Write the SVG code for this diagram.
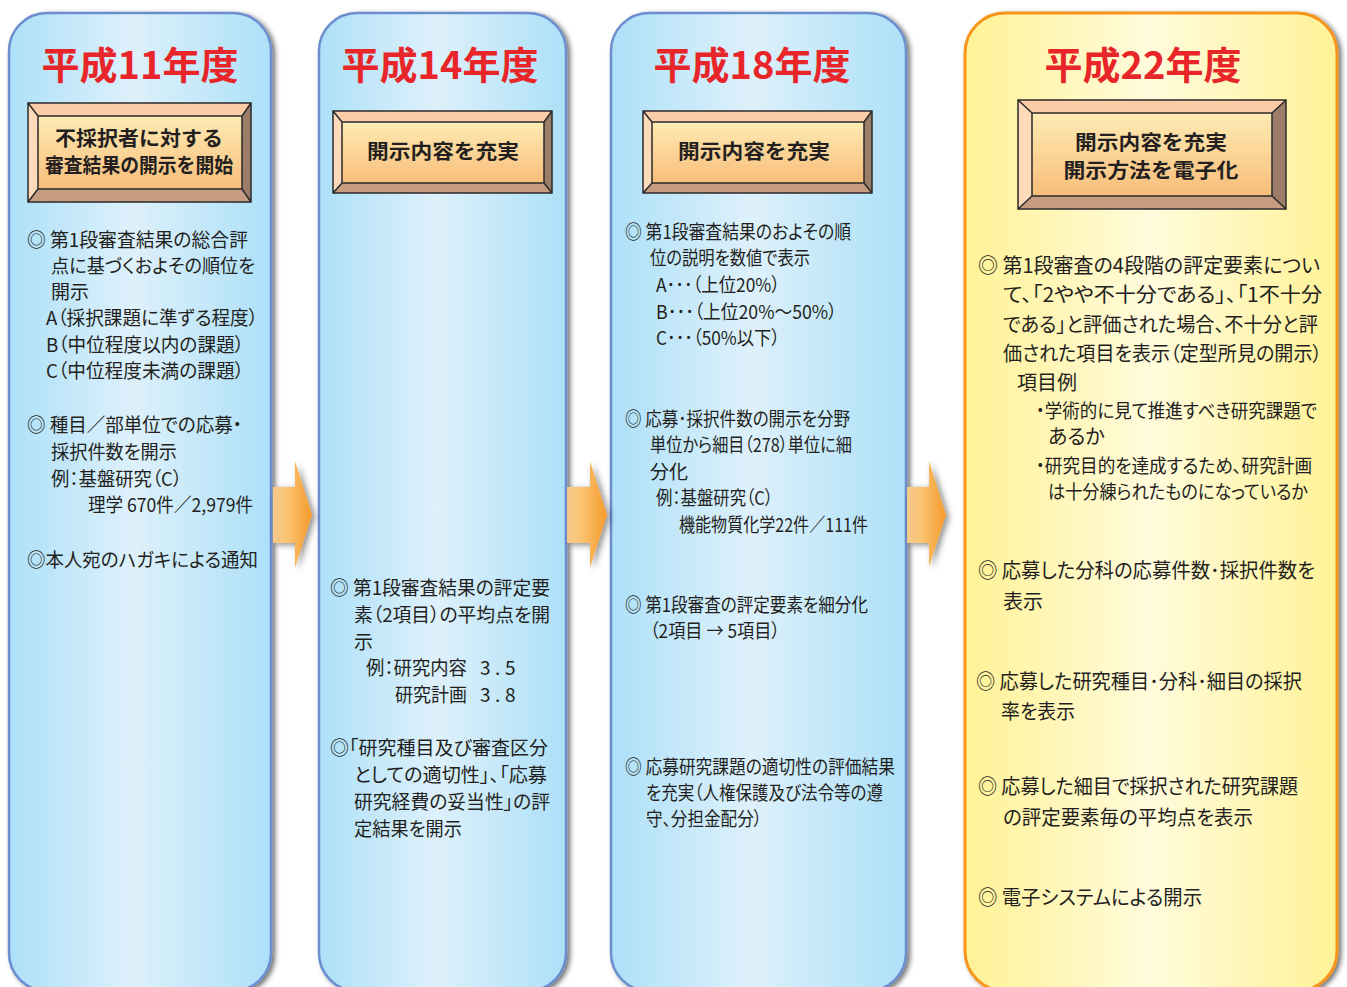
<svg xmlns="http://www.w3.org/2000/svg" width="1347" height="987" viewBox="0 0 1347 987">
<defs>
<linearGradient id="blueG" x1="0" y1="0" x2="1" y2="0">
<stop offset="0" stop-color="#ade0f8"/><stop offset="0.48" stop-color="#def1fb"/><stop offset="0.55" stop-color="#d6eefa"/><stop offset="1" stop-color="#ade0f8"/>
</linearGradient>
<linearGradient id="yellowG" x1="0" y1="0" x2="1" y2="0">
<stop offset="0" stop-color="#fff296"/><stop offset="0.5" stop-color="#fffbdc"/><stop offset="1" stop-color="#fff296"/>
</linearGradient>
<linearGradient id="faceG" x1="0" y1="0" x2="0" y2="1">
<stop offset="0" stop-color="#feebb4"/><stop offset="1" stop-color="#f8bd7a"/>
</linearGradient>
<linearGradient id="arrowG" x1="0" y1="0" x2="1" y2="0">
<stop offset="0" stop-color="#f3c98c"/><stop offset="0.35" stop-color="#fbc473"/><stop offset="1" stop-color="#f59a2c"/>
</linearGradient>
<filter id="sh" x="-10%" y="-5%" width="125%" height="115%">
<feDropShadow dx="3" dy="2" stdDeviation="2.5" flood-color="#000" flood-opacity="0.55"/>
</filter>
<filter id="ash" x="-50%" y="-30%" width="250%" height="160%">
<feDropShadow dx="3" dy="2" stdDeviation="3" flood-color="#000" flood-opacity="0.45"/>
</filter>
</defs>
<style>
.pb{fill:url(#blueG);stroke:#6c8ecf;stroke-width:2.5}
.py{fill:url(#yellowG);stroke:#f7941d;stroke-width:3}
.ttl{font-family:"Noto Sans CJK JP","Noto Sans CJK SC",sans-serif;font-weight:700;font-size:38px;fill:#e8262a;text-anchor:middle}
.bt{fill:#fbcca6}.bl{fill:#fddab9}.br{fill:#9b7d69}.bb{fill:#c69d80}
.face{fill:url(#faceG)}
.ol{fill:none;stroke:#2a2a2a;stroke-width:1.5}
.hd{font-family:"Noto Sans CJK JP","Noto Sans CJK SC",sans-serif;font-weight:700;font-size:20px;fill:#231f20;text-anchor:middle}
.t{font-family:"Noto Sans CJK JP","Noto Sans CJK SC",sans-serif;font-size:19px;fill:#231f20;font-feature-settings:"palt"}
.t4{font-family:"Noto Sans CJK JP","Noto Sans CJK SC",sans-serif;font-size:20px;fill:#231f20;font-feature-settings:"palt"}
.s19{font-size:19px}
.arr{fill:url(#arrowG)}
</style>
<rect width="1347" height="987" fill="#ffffff"/>

<g id="panel-h11">
<rect class="pb" x="9" y="13" width="262" height="978" rx="38" filter="url(#sh)"/>
<text class="ttl" x="140" y="79">平成11年度</text>
<g id="box-h11">
<polygon class="bt" points="28,103 251,103 242,116 38,116"/>
<polygon class="bl" points="28,103 38,116 38,189 28,202"/>
<polygon class="br" points="251,103 251,202 242,189 242,116"/>
<polygon class="bb" points="28,202 38,189 242,189 251,202"/>
<rect class="face" x="38" y="116" width="204" height="73"/>
<path class="ol" d="M28,103H251V202H28Z M38,116H242V189H38Z M28,103L38,116 M251,103L242,116 M28,202L38,189 M251,202L242,189"/>
<text class="hd" x="139" y="146" textLength="168" lengthAdjust="spacingAndGlyphs">不採択者に対する</text>
<text class="hd" x="139" y="173" textLength="188" lengthAdjust="spacingAndGlyphs">審査結果の開示を開始</text>
</g>
<text class="t" x="27" y="247" textLength="221" lengthAdjust="spacingAndGlyphs">◎ 第1段審査結果の総合評</text>
<text class="t" x="51" y="273" textLength="204" lengthAdjust="spacingAndGlyphs">点に基づくおよその順位を</text>
<text class="t" x="51" y="299">開示</text>
<text class="t" x="46" y="325" textLength="212" lengthAdjust="spacingAndGlyphs">A（採択課題に準ずる程度）</text>
<text class="t" x="46" y="352" textLength="198" lengthAdjust="spacingAndGlyphs">B（中位程度以内の課題）</text>
<text class="t" x="46" y="378" textLength="198" lengthAdjust="spacingAndGlyphs">C（中位程度未満の課題）</text>
<text class="t" x="27" y="432" textLength="215" lengthAdjust="spacingAndGlyphs">◎ 種目／部単位での応募・</text>
<text class="t" x="51" y="459" textLength="126" lengthAdjust="spacingAndGlyphs">採択件数を開示</text>
<text class="t" x="51" y="486" textLength="131" lengthAdjust="spacingAndGlyphs">例：基盤研究（C）</text>
<text class="t" x="88" y="512" textLength="165" lengthAdjust="spacingAndGlyphs">理学 670件／2,979件</text>
<text class="t" x="27" y="567" textLength="231" lengthAdjust="spacingAndGlyphs">◎本人宛のハガキによる通知</text>
</g>

<g id="panel-h14">
<rect class="pb" x="319" y="13" width="247" height="978" rx="38" filter="url(#sh)"/>
<text class="ttl" x="440" y="79">平成14年度</text>
<g id="box-h14">
<polygon class="bt" points="333,111 552,111 544,122 342,122"/>
<polygon class="bl" points="333,111 342,122 342,183 333,193"/>
<polygon class="br" points="552,111 552,193 544,183 544,122"/>
<polygon class="bb" points="333,193 342,183 544,183 552,193"/>
<rect class="face" x="342" y="122" width="202" height="61"/>
<path class="ol" d="M333,111H552V193H333Z M342,122H544V183H342Z M333,111L342,122 M552,111L544,122 M333,193L342,183 M552,193L544,183"/>
<text class="hd" x="443" y="159" textLength="152" lengthAdjust="spacingAndGlyphs">開示内容を充実</text>
</g>
<text class="t" x="330" y="595" textLength="220" lengthAdjust="spacingAndGlyphs">◎ 第1段審査結果の評定要</text>
<text class="t" x="354" y="622" textLength="196" lengthAdjust="spacingAndGlyphs">素（2項目）の平均点を開</text>
<text class="t" x="354" y="649">示</text>
<text class="t" x="366" y="675" textLength="101" lengthAdjust="spacingAndGlyphs">例：研究内容</text>
<text class="t" y="675"><tspan x="480">3</tspan><tspan x="495">.</tspan><tspan x="505">5</tspan></text>
<text class="t" x="395" y="702" textLength="72" lengthAdjust="spacingAndGlyphs">研究計画</text>
<text class="t" y="702"><tspan x="480">3</tspan><tspan x="495">.</tspan><tspan x="505">8</tspan></text>
<text class="t" x="330" y="755" textLength="218" lengthAdjust="spacingAndGlyphs">◎「研究種目及び審査区分</text>
<text class="t" x="354" y="782" textLength="193" lengthAdjust="spacingAndGlyphs">としての適切性」、「応募</text>
<text class="t" x="354" y="809" textLength="196" lengthAdjust="spacingAndGlyphs">研究経費の妥当性」の評</text>
<text class="t" x="354" y="836" textLength="108" lengthAdjust="spacingAndGlyphs">定結果を開示</text>
</g>

<g id="panel-h18">
<rect class="pb" x="611" y="13" width="295" height="978" rx="38" filter="url(#sh)"/>
<text class="ttl" x="752" y="79">平成18年度</text>
<g id="box-h18">
<polygon class="bt" points="643,111 872,111 864,122 652,122"/>
<polygon class="bl" points="643,111 652,122 652,183 643,193"/>
<polygon class="br" points="872,111 872,193 864,183 864,122"/>
<polygon class="bb" points="643,193 652,183 864,183 872,193"/>
<rect class="face" x="652" y="122" width="212" height="61"/>
<path class="ol" d="M643,111H872V193H643Z M652,122H864V183H652Z M643,111L652,122 M872,111L864,122 M643,193L652,183 M872,193L864,183"/>
<text class="hd" x="754" y="159" textLength="152" lengthAdjust="spacingAndGlyphs">開示内容を充実</text>
</g>
<text class="t" x="625" y="239" textLength="226" lengthAdjust="spacingAndGlyphs">◎ 第1段審査結果のおよその順</text>
<text class="t" x="650" y="265" textLength="160" lengthAdjust="spacingAndGlyphs">位の説明を数値で表示</text>
<text class="t" x="656" y="292" textLength="124" lengthAdjust="spacingAndGlyphs">A･･･（上位20%）</text>
<text class="t" x="656" y="319" textLength="181" lengthAdjust="spacingAndGlyphs">B･･･（上位20%～50%）</text>
<text class="t" x="656" y="345" textLength="124" lengthAdjust="spacingAndGlyphs">C･･･（50%以下）</text>
<text class="t" x="625" y="426" textLength="225" lengthAdjust="spacingAndGlyphs">◎ 応募･採択件数の開示を分野</text>
<text class="t" x="650" y="452" textLength="202" lengthAdjust="spacingAndGlyphs">単位から細目（278）単位に細</text>
<text class="t" x="650" y="479">分化</text>
<text class="t" x="656" y="505" textLength="117" lengthAdjust="spacingAndGlyphs">例：基盤研究（C）</text>
<text class="t" x="679" y="532" textLength="189" lengthAdjust="spacingAndGlyphs">機能物質化学22件／111件</text>
<text class="t" x="625" y="612" textLength="243" lengthAdjust="spacingAndGlyphs">◎ 第1段審査の評定要素を細分化</text>
<text class="t" x="650" y="638" textLength="130" lengthAdjust="spacingAndGlyphs">（2項目 → 5項目）</text>
<text class="t" x="625" y="774" textLength="270" lengthAdjust="spacingAndGlyphs">◎ 応募研究課題の適切性の評価結果</text>
<text class="t" x="646" y="800" textLength="237" lengthAdjust="spacingAndGlyphs">を充実（人権保護及び法令等の遵</text>
<text class="t" x="646" y="826" textLength="116" lengthAdjust="spacingAndGlyphs">守、分担金配分）</text>
</g>

<g id="panel-h22">
<rect class="py" x="965" y="13" width="372" height="978" rx="40" filter="url(#sh)"/>
<text class="ttl" x="1143" y="79">平成22年度</text>
<g id="box-h22">
<polygon class="bt" points="1018,100 1286,100 1272,113 1032,113"/>
<polygon class="bl" points="1018,100 1032,113 1032,196 1018,209"/>
<polygon class="br" points="1286,100 1286,209 1272,196 1272,113"/>
<polygon class="bb" points="1018,209 1032,196 1272,196 1286,209"/>
<rect class="face" x="1032" y="113" width="240" height="83"/>
<path class="ol" d="M1018,100H1286V209H1018Z M1032,113H1272V196H1032Z M1018,100L1032,113 M1286,100L1272,113 M1018,209L1032,196 M1286,209L1272,196"/>
<text class="hd" x="1151" y="150" textLength="152" lengthAdjust="spacingAndGlyphs">開示内容を充実</text>
<text class="hd" x="1151" y="178" textLength="175" lengthAdjust="spacingAndGlyphs">開示方法を電子化</text>
</g>
<text class="t4" x="978" y="273" textLength="342" lengthAdjust="spacingAndGlyphs">◎ 第1段審査の4段階の評定要素につい</text>
<text class="t4" x="1003" y="302" textLength="319" lengthAdjust="spacingAndGlyphs">て、「2やや不十分である」、「1不十分</text>
<text class="t4" x="1003" y="332" textLength="315" lengthAdjust="spacingAndGlyphs">である」と評価された場合、不十分と評</text>
<text class="t4" x="1003" y="361" textLength="319" lengthAdjust="spacingAndGlyphs">価された項目を表示（定型所見の開示）</text>
<text class="t4" x="1017" y="390">項目例</text>
<text class="t4 s19" x="1036" y="418" textLength="281" lengthAdjust="spacingAndGlyphs">・学術的に見て推進すべき研究課題で</text>
<text class="t4" x="1048" y="444">あるか</text>
<text class="t4 s19" x="1036" y="473" textLength="276" lengthAdjust="spacingAndGlyphs">・研究目的を達成するため、研究計画</text>
<text class="t4 s19" x="1048" y="499" textLength="260" lengthAdjust="spacingAndGlyphs">は十分練られたものになっているか</text>
<text class="t4" x="978" y="578" textLength="337" lengthAdjust="spacingAndGlyphs">◎ 応募した分科の応募件数･採択件数を</text>
<text class="t4" x="1003" y="609">表示</text>
<text class="t4" x="976" y="689" textLength="326" lengthAdjust="spacingAndGlyphs">◎ 応募した研究種目･分科･細目の採択</text>
<text class="t4" x="1001" y="719" textLength="74" lengthAdjust="spacingAndGlyphs">率を表示</text>
<text class="t4" x="978" y="794" textLength="320" lengthAdjust="spacingAndGlyphs">◎ 応募した細目で採択された研究課題</text>
<text class="t4" x="1003" y="825" textLength="250" lengthAdjust="spacingAndGlyphs">の評定要素毎の平均点を表示</text>
<text class="t4" x="978" y="905" textLength="224" lengthAdjust="spacingAndGlyphs">◎ 電子システムによる開示</text>
</g>

<g id="connectors">
<path class="arr" filter="url(#ash)" d="M273,487H295V461L312,515L295,568V543H273Z"/>
<path class="arr" filter="url(#ash)" d="M567,487H590V461L607,515L590,568V543H567Z"/>
<path class="arr" filter="url(#ash)" d="M907,487H929V461L946,515L929,567V543H907Z"/>
</g>
</svg>
